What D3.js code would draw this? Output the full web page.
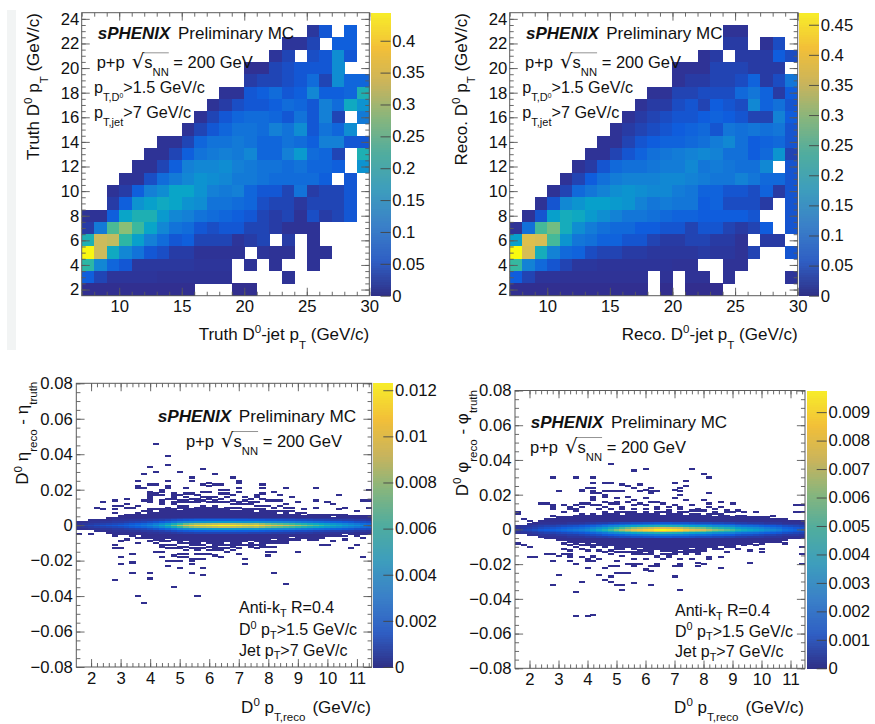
<!DOCTYPE html>
<html><head><meta charset="utf-8">
<script src="https://cdn.jsdelivr.net/npm/d3@7/dist/d3.min.js"></script>
<style>html,body{margin:0;padding:0;background:#fff}svg{display:block}text{font-family:"Liberation Sans",Arial,sans-serif;fill:#111}</style>
</head><body><svg id="c" width="875" height="724"></svg>
<script>
const _ = null;
// ROOT "bird" palette stops for the cells, and the paler look of the printed colour bars
const birdColors = ["#352a87","#0f5cdd","#1481d6","#06a4ca","#2eb7a4","#87bf77","#d1bb59","#fec832","#f9fb0e"];
const barColors = ["#2f2f86","#2f5fc4","#3a80c8","#3d9dbd","#4fac9f","#85b57e","#c9b45c","#f2bf38","#f7ec2a"];

const truthColorTicks = [0,.05,.1,.15,.2,.25,.3,.35,.4];
const recoColorTicks = [0,.05,.1,.15,.2,.25,.3,.35,.4,.45];
const etaColorTicks = [0,.002,.004,.006,.008,.01,.012];
const phiColorTicks = [0,.001,.002,.003,.004,.005,.006,.007,.008,.009];
const jetPtTicks = [10,15,20,25,30];
const d0PtTicks = [2,4,6,8,10,12,14,16,18,20,22,24];
const recoPtTicks = [2,3,4,5,6,7,8,9,10,11];
const residTicks = [-.08,-.06,-.04,-.02,0,.02,.04,.06,.08];

// rows from D0 pT = 24 down to 2, columns jet pT 7-8 ... 29-30
const truthRows = [
[_,_,_,_,_,_,_,_,_,_,_,_,_,_,_,_,_,_,_,_,_,_,_],
[_,_,_,_,_,_,_,_,_,_,_,_,_,_,_,_,_,_,.015,.05,_,.06,_],
[_,_,_,_,_,_,_,_,_,_,_,_,_,_,_,_,.012,.012,.03,_,.06,.06,_],
[_,_,_,_,_,_,_,_,_,_,_,_,_,_,_,.012,.03,_,.04,.05,.13,.05,_],
[_,_,_,_,_,_,_,_,_,_,_,_,_,.008,.008,.03,.04,.05,.05,.05,.13,_,_],
[_,_,_,_,_,_,_,_,_,_,_,_,_,.02,.03,.03,.04,.05,.08,.03,.13,.07,.07],
[_,_,_,_,_,_,_,_,_,_,_,.01,.01,.05,.06,.08,.05,.06,.12,.06,.06,.07,.2],
[_,_,_,_,_,_,_,_,_,_,.01,.02,.04,.05,.05,.06,.08,.07,.05,.11,.08,.18,.14],
[_,_,_,_,_,_,_,_,_,.01,.03,.05,.07,.08,.08,.07,.05,.09,.05,.11,.03,_,.1],
[_,_,_,_,_,_,_,_,.01,.03,.05,.07,.09,.09,.08,.11,.09,.13,.05,.09,.07,.13,_],
[_,_,_,_,_,_,.01,.01,.03,.07,.09,.09,.1,.09,.07,.07,.09,.08,.06,.11,.11,.05,.05],
[_,_,_,_,_,.01,.01,.03,.06,.09,.1,.11,.1,.12,.07,.07,.11,.15,.08,.07,.03,_,.2],
[_,_,_,_,.01,.01,.03,.06,.11,.12,.12,.13,.11,.1,.09,.09,.08,.09,.07,.07,.06,_,.14],
[_,_,_,.01,.01,.04,.08,.1,.12,.14,.13,.12,.1,.1,.09,.08,.08,.08,.08,.06,_,.05,_],
[_,_,.01,.02,.06,.11,.13,.17,.17,.14,.11,.1,.11,.07,.05,.05,.03,.09,.02,.03,.03,.05,_],
[_,_,.02,.06,.14,.16,.18,.17,.14,.13,.09,.09,.08,.07,.04,.03,.03,.015,.03,.03,.03,.05,_],
[.01,.01,.06,.17,.2,.2,.15,.12,.11,.09,.08,.07,.06,.05,.03,.02,.03,.01,.04,.02,.03,.05,_],
[.02,.1,.24,.28,.23,.17,.12,.09,.08,.05,.04,.05,.05,.03,.03,.02,.01,.01,.01,_,_,_,_],
[.2,.33,.32,.22,.16,.11,.08,.05,.06,.03,.03,.03,.012,.02,.03,_,.02,_,.01,_,_,_,_],
[.44,.33,.18,.12,.09,.05,.04,.02,.02,.01,.01,.01,.01,_,.012,.01,.01,_,.01,.01,_,_,_],
[.22,.12,.07,.05,.015,.015,.015,.015,.015,.012,.012,.012,_,.01,_,.01,_,_,.01,_,_,_,_],
[.06,.03,.012,.012,.012,.012,.01,.01,.01,.01,.01,.01,_,_,_,_,.01,_,_,_,_,_,_],
[.006,.006,.006,.006,.006,.006,.006,.006,.006,_,_,_,.005,.005,_,_,_,_,_,_,_,_,_]
];
const recoRows = [
[_,_,_,_,_,_,_,_,_,_,_,_,_,_,_,_,_,_,_,_,_,_,_],
[_,_,_,_,_,_,_,_,_,_,_,_,_,_,_,_,_,.01,.01,_,_,_,_],
[_,_,_,_,_,_,_,_,_,_,_,_,_,_,_,_,_,.02,.02,_,.01,.04,_],
[_,_,_,_,_,_,_,_,_,_,_,_,_,_,_,.01,.02,_,.02,.02,.02,.06,.04],
[_,_,_,_,_,_,_,_,_,_,_,_,_,.01,.01,.01,.03,.03,.03,.02,.02,.02,_],
[_,_,_,_,_,_,_,_,_,_,_,_,_,.01,.02,.02,.03,.03,.04,.07,.02,.04,.1],
[_,_,_,_,_,_,_,_,_,_,_,.01,.01,.03,.03,.04,.04,.04,.08,.1,.07,.02,.06],
[_,_,_,_,_,_,_,_,_,_,.01,.02,.02,.04,.05,.03,.06,.05,.04,.13,.07,.09,.05],
[_,_,_,_,_,_,_,_,_,.01,.02,.03,.04,.05,.05,.06,.07,.06,.05,.03,.03,.12,.06],
[_,_,_,_,_,_,_,_,.01,.02,.03,.04,.05,.06,.07,.08,.05,.1,.09,.1,.09,.1,.05],
[_,_,_,_,_,_,_,.01,.01,.03,.05,.06,.07,.07,.08,.09,.11,.13,.09,.06,.07,.08,.05],
[_,_,_,_,_,_,.01,.01,.03,.05,.07,.09,.1,.11,.12,.13,.12,.09,.09,.06,.08,.15,.03],
[_,_,_,_,_,.01,.02,.05,.08,.09,.09,.1,.11,.11,.13,.1,.11,.1,.09,.09,.13,_,.05],
[_,_,_,_,.01,.03,.06,.09,.11,.12,.12,.12,.13,.13,.12,.11,.1,.1,.12,.1,.08,.08,.05],
[_,_,_,.01,.03,.08,.1,.12,.14,.15,.14,.13,.13,.11,.1,.07,.07,.05,.05,.04,.07,.02,.05],
[_,_,.01,.05,.13,.15,.17,.17,.16,.15,.12,.1,.11,.1,.1,.06,.07,.04,.04,.04,.02,_,.05],
[_,.01,.05,.17,.2,.19,.16,.14,.12,.1,.1,.09,.08,.07,.07,.06,.06,.06,.06,.05,_,_,.05],
[.01,.09,.25,.28,.2,.14,.11,.09,.08,.08,.06,.06,.05,.05,.03,.05,.05,.03,.02,.03,.06,_,.05],
[.17,.37,.36,.25,.15,.1,.09,.07,.07,.05,.05,.03,.02,.02,.03,.03,.02,.02,.01,_,.02,.02,_],
[.47,.36,.2,.12,.08,.07,.04,.03,.03,.02,.02,.015,.015,.015,.015,.02,.015,.015,.01,.03,_,_,.05],
[.24,.12,.08,.05,.03,.015,.015,.012,.012,.012,.012,.012,.012,.01,.01,_,_,.01,.01,_,_,_,_],
[.06,.03,.012,.012,.01,.01,.01,.01,.01,.01,.01,_,.01,_,.01,.01,_,.01,_,_,_,_,.012],
[.006,.006,.006,.006,.006,.006,.006,.006,.006,.006,.006,_,.005,_,.005,.005,.005,_,_,_,_,_,_]
];

// residual panels: 50 pT bins, residual bins 0.001 wide; ridge values at offsets 0, +-1, +-2, +-3, +-4
const etaRidge = [.0005,.0007,.0008,.001,.0012,.0013,.0014,.0016,.0018,.0021,.0024,.0027,.0032,.0039,.0048,.0058,.0072,.0086,.0098,.0105,.0112,.0115,.0117,.012,.0123,.0122,.012,.0118,.0115,.0113,.0116,.0108,.0102,.0098,.0096,.0092,.0088,.0083,.0077,.0072,.0068,.0064,.0057,.0053,.0049,.0044,.004,.0036,.0032,.0028];
const etaNear1 = [.0003,.0004,.0005,.0006,.0007,.0008,.0009,.001,.0012,.0014,.0016,.0019,.0023,.0028,.0034,.0042,.0052,.0062,.0071,.0076,.0081,.0084,.0086,.0088,.009,.009,.0088,.0086,.0084,.0083,.0085,.0079,.0074,.0071,.0069,.0066,.0064,.006,.0056,.0052,.0049,.0046,.0042,.0039,.0036,.0032,.0029,.0026,.0023,.002];
const etaNear2 = [.0002,.0002,.0003,.0003,.0004,.0004,.0005,.0005,.0006,.0007,.0008,.0009,.0011,.0013,.0016,.002,.0025,.003,.0034,.0036,.0038,.004,.0041,.0042,.0042,.0042,.0041,.004,.0039,.0039,.004,.0037,.0035,.0034,.0033,.0031,.003,.0028,.0026,.0025,.0023,.0022,.002,.0018,.0017,.0015,.0014,.0012,.0011,.001];
const etaNear3 = [.0001,.0001,.0002,.0002,.0002,.0002,.0003,.0003,.0003,.0004,.0004,.0005,.0005,.0006,.0007,.0009,.0011,.0013,.0014,.0015,.0016,.0016,.0017,.0017,.0017,.0017,.0017,.0016,.0016,.0016,.0016,.0015,.0014,.0014,.0013,.0012,.0012,.0011,.0011,.001,.0009,.0009,.0008,.0007,.0007,.0006,.0006,.0005,.0005,.0004];
const etaNear4 = [.0001,.0001,.0001,.0001,.0001,.0001,.0002,.0002,.0002,.0002,.0002,.0002,.0003,.0003,.0004,.0004,.0005,.0006,.0007,.0007,.0008,.0008,.0008,.0008,.0008,.0008,.0008,.0008,.0008,.0007,.0007,.0007,.0007,.0006,.0006,.0006,.0006,.0005,.0005,.0005,.0004,.0004,.0004,.0003,.0003,.0003,.0003,.0002,.0002,.0002];
const etaBandUp = [2,2,3,3,3,4,4,5,6,6,7,8,9,9,10,10,10,11,11,11,11,11,11,11,10,10,10,10,9,9,9,9,8,8,8,8,8,7,7,6,6,6,6,6,6,6,5,5,5,5];
const etaBandDown = [2,2,2,3,3,4,5,5,5,6,7,7,8,8,9,9,9,10,10,11,11,11,12,12,11,11,10,10,9,9,9,9,9,9,9,9,8,8,8,8,8,7,6,6,6,5,5,5,5,5];
const etaHoles = [[19,11],[20,11],[19,10],[16,10],[14,10],[17,9],[13,8],[11,7],[22,11],[24,10],[27,9],[26,9],[30,8],[34,7],[36,7],[38,6],[43,5],[25,-10],[21,-10],[16,-9],[15,-8],[12,-8],[18,-9],[22,-11],[29,-9],[33,-8],[38,-8],[36,-7],[45,-5],[10,-6]];
const etaScatter = [[13,46],[15,39],[15,34],[12,33],[11,29],[13,30],[17,30],[21,32],[10,25],[10,22],[12,23],[13,23],[15,25],[19,27],[19,25],[23,29],[22,24],[21,23],[15,22],[14,20],[12,18],[12,16],[13,18],[13,17],[16,18],[16,16],[17,17],[4,13],[6,14],[8,15],[3,10],[4,9],[6,11],[6,9],[8,10],[9,10],[10,11],[11,14],[12,13],[14,14],[15,15],[18,16],[18,18],[19,18],[20,17],[21,19],[22,16],[22,22],[23,16],[23,23],[24,23],[24,18],[25,20],[26,27],[26,17],[27,25],[27,24],[27,19],[28,16],[29,15],[30,17],[30,16],[31,23],[31,21],[31,15],[32,14],[33,19],[33,14],[34,17],[34,14],[35,21],[36,16],[37,13],[38,9],[40,21],[40,14],[40,10],[42,13],[43,12],[44,17],[44,9],[45,10],[47,8],[49,20],[49,14],[49,10],[48,14],[0,-5],[2,-5],[5,-4],[6,-6],[6,-11],[6,-13],[7,-13],[7,-18],[9,-16],[7,-22],[9,-21],[9,-27],[12,-27],[12,-30],[6,-31],[16,-35],[10,-40],[20,-40],[11,-44],[15,-23],[17,-24],[19,-27],[21,-28],[21,-24],[17,-20],[14,-18],[16,-17],[19,-19],[20,-19],[19,-20],[15,-20],[16,-20],[18,-16],[17,-18],[18,-18],[13,-15],[22,-16],[23,-17],[24,-18],[25,-15],[26,-14],[26,-11],[27,-16],[28,-19],[28,-22],[21,-16],[29,-12],[30,-13],[31,-10],[32,-15],[32,-17],[33,-12],[33,-15],[33,-27],[34,-7],[34,-9],[35,-33],[37,-15],[40,-8],[41,-11],[42,-11],[43,-9],[45,-8],[45,-6],[46,-13],[47,-11],[47,-6],[48,-18],[48,-7],[49,-5],
[6,7],[6,9],[7,11],[8,12],[10,21],[11,21],[12,14],[12,15],[12,17],[12,19],[14,12],[14,13],[14,17],[14,19],[15,21],[16,12],[16,13],[16,15],[16,17],[17,13],[17,14],[18,13],[18,14],[18,21],[19,13],[19,15],[20,13],[20,14],[20,15],[21,14],[21,16],[22,13],[22,15],[22,19],[23,13],[23,14],[24,13],[24,15],[24,20],[25,13],[25,16],[25,18],[26,12],[26,14],[27,12],[27,13],[27,21],[28,12],[28,14],[29,12],[29,13],[30,11],[30,13],[31,11],[31,18],[32,11],[33,10],[34,11],[35,10],[35,12],[36,10],
[7,-9],[8,-8],[10,-10],[12,-9],[13,-10],[14,-11],[14,-12],[14,-15],[15,-11],[15,-13],[16,-11],[16,-13],[17,-12],[17,-13],[17,-16],[18,-12],[18,-14],[19,-13],[19,-22],[20,-13],[20,-14],[20,-16],[21,-13],[21,-19],[22,-14],[23,-14],[23,-13],[24,-13],[24,-14],[25,-13],[26,-12],[27,-11],[27,-13],[28,-11],[29,-10],[29,-11],[30,-11],[31,-11],[31,-12],[32,-10],[32,-12],[33,-10],[34,-10],[35,-10]];

const phiRidge = [.0004,.0006,.0007,.0009,.0011,.0012,.0013,.0015,.0017,.0019,.0021,.0023,.0027,.0032,.0039,.0045,.0052,.0059,.0066,.0072,.0078,.0082,.0086,.0088,.0094,.0097,.0094,.0092,.0089,.0083,.0078,.0075,.0074,.0068,.0062,.0059,.0055,.0052,.0045,.0041,.0038,.0035,.0032,.0028,.0026,.0023,.0018,.0016,.0014,.0012];
const phiNear1 = [.0003,.0004,.0005,.0006,.0008,.0009,.001,.0011,.0013,.0015,.0016,.0018,.0021,.0025,.003,.0035,.0041,.0047,.0052,.0057,.0062,.0065,.0068,.007,.0074,.0076,.0074,.0072,.007,.0065,.0061,.0059,.0058,.0053,.0049,.0046,.0043,.0041,.0035,.0032,.003,.0028,.0025,.0022,.002,.0018,.0014,.0013,.0011,.001];
const phiNear2 = [.0002,.0003,.0003,.0004,.0005,.0006,.0006,.0007,.0008,.0009,.001,.0011,.0013,.0015,.0018,.0021,.0025,.0028,.0031,.0034,.0037,.0039,.0041,.0042,.0044,.0045,.0044,.0043,.0042,.0039,.0037,.0035,.0035,.0032,.0029,.0028,.0026,.0025,.0021,.0019,.0018,.0017,.0015,.0013,.0012,.0011,.0009,.0008,.0007,.0006];
const phiNear3 = [.0001,.0002,.0002,.0002,.0003,.0003,.0003,.0004,.0004,.0005,.0005,.0006,.0007,.0008,.0009,.0011,.0012,.0014,.0015,.0017,.0018,.0019,.002,.0021,.0022,.0022,.0022,.0021,.0021,.002,.0018,.0017,.0017,.0016,.0014,.0014,.0013,.0012,.001,.0009,.0009,.0008,.0007,.0006,.0006,.0005,.0004,.0004,.0004,.0003];
const phiNear4 = [.0001,.0001,.0001,.0001,.0002,.0002,.0002,.0002,.0002,.0003,.0003,.0003,.0004,.0004,.0005,.0005,.0006,.0007,.0008,.0008,.0009,.0009,.001,.001,.0011,.0011,.0011,.001,.001,.001,.0009,.0008,.0008,.0008,.0007,.0007,.0006,.0006,.0005,.0005,.0004,.0004,.0004,.0003,.0003,.0003,.0002,.0002,.0002,.0002];
const phiBandUp = [2,2,3,4,5,6,6,7,7,8,8,9,9,9,9,10,10,10,10,10,10,10,10,10,10,10,10,10,10,10,9,9,9,9,9,9,8,8,8,8,8,7,7,7,6,6,6,5,5,5];
const phiBandDown = [2,2,3,3,4,5,5,6,6,7,8,9,9,9,10,10,10,11,11,11,11,12,12,12,12,12,13,13,13,13,12,12,12,11,11,11,10,10,9,9,8,8,7,7,7,6,6,5,5,5];
const phiHoles = [[9,8],[12,9],[14,9],[16,10],[18,9],[21,10],[23,10],[25,9],[27,10],[29,9],[32,9],[34,8],[37,8],[40,8],[11,-8],[14,-10],[16,-10],[19,-11],[21,-11],[24,-12],[26,-13],[28,-12],[30,-11],[33,-11],[35,-10],[38,-9],[41,-8],[13,-8]];
const phiScatter = [[16,38],[20,34],[22,35],[6,30],[10,30],[13,30],[7,22],[11,22],[12,24],[13,27],[13,24],[15,27],[16,27],[18,26],[19,25],[20,24],[21,26],[22,23],[23,21],[24,22],[13,22],[14,21],[15,22],[16,22],[17,22],[13,19],[15,19],[13,17],[18,22],[17,18],[19,19],[20,17],[22,18],[24,16],[15,16],[16,15],[17,16],[4,15],[5,15],[0,10],[0,9],[6,14],[6,13],[6,12],[8,14],[10,14],[11,15],[1,6],[2,5],[5,5],[6,8],[30,35],[32,32],[33,30],[27,27],[29,28],[28,24],[27,23],[28,20],[27,18],[23,24],[24,22],[23,22],[33,21],[32,17],[33,15],[35,16],[37,15],[35,13],[33,13],[36,11],[38,11],[39,10],[41,10],[44,8],[43,7],[48,14],[49,14],[48,10],[49,10],[2,-16],[3,-16],[0,-8],[1,-9],[2,-10],[6,-18],[6,-32],[11,-30],[10,-36],[10,-50],[12,-50],[13,-49],[7,-26],[9,-16],[9,-18],[10,-20],[12,-22],[13,-16],[13,-18],[15,-22],[16,-21],[14,-26],[15,-29],[16,-30],[17,-32],[18,-32],[18,-35],[20,-31],[23,-32],[16,-27],[17,-25],[18,-25],[19,-25],[20,-21],[21,-20],[22,-23],[24,-21],[20,-17],[22,-17],[5,-14],[6,-14],[8,-11],[8,-14],[9,-14],[7,-15],[12,-17],[49,-10],[49,-14],[49,-20],[46,-8],[44,-6],[45,-7],[42,-8],[42,-11],[42,-13],[41,-9],[40,-12],[40,-19],[38,-11],[36,-10],[36,-13],[35,-11],[35,-16],[34,-10],[33,-10],[33,-16],[33,-17],[35,-22],[31,-21],[32,-20],[31,-19],[28,-20],[27,-21],[27,-27],[28,-35],[24,-21],[23,-24],[23,-32],[31,-13],[29,-13],[26,-16],[24,-16],[25,-17],[30,-17],[28,-17],
[11,23],[13,21],[13,18],[15,20],[17,22],[21,22],[23,22],[28,22],[29,25],[9,13],[10,11],[12,15],[13,14],[15,13],[17,15],[19,16],[21,15],[23,16],[25,15],[27,14],[29,17],[30,14],[8,10],[9,12],[10,12],[11,13],[14,12],[14,14],[16,12],[18,12],[18,13],[20,12],[20,14],[22,12],[22,14],[24,12],[24,13],[26,11],[26,13],[28,12],[28,13],[30,11],[31,11],[31,12],[32,11],[34,10],[34,12],[36,10],[37,10],
[8,-8],[9,-9],[9,-12],[9,-15],[11,-16],[12,-18],[13,-10],[13,-15],[14,-17],[16,-14],[17,-18],[15,-22],[17,-21],[20,-14],[21,-14],[23,-13],[24,-15],[26,-15],[28,-9],[30,-13],[19,-20],[20,-20],[23,-21],[24,-20],[28,-21],[10,-10],[11,-11],[12,-12],[14,-12],[15,-13],[16,-12],[17,-13],[18,-13],[18,-15],[19,-13],[20,-13],[21,-13],[22,-14],[23,-14],[25,-14],[26,-14],[27,-14],[29,-14],[31,-14]];

const svg = d3.select("#c");
const frameColor = "#5a5a5a";
const FS = 16.5, TICK = 16.7, TITLE = 17;
const fontStack = '"Liberation Sans",Arial,sans-serif';

function paletteScale(max, colors){
  return d3.scaleLinear().domain(colors.map((c,i)=>i/(colors.length-1)*max)).range(colors).clamp(true);
}
function rich(g, x, y, parts, o={}){
  const size = o.size||FS, drop = o.drop===undefined?.5:o.drop;
  const t = g.append("text").attr("x",x).attr("y",y).attr("font-size",size);
  if(o.anchor) t.attr("text-anchor",o.anchor);
  if(o.rotate) t.attr("transform",`rotate(-90 ${x} ${y})`);
  let shift=0; const overs=[];
  parts.forEach(p=>{
    const s = typeof p==="string"?{t:p}:p;
    const target = s.rise!==undefined?s.rise*size:s.sub?size*drop:s.sup?-size*.4:0;
    const sp = t.append("tspan").text(s.t).attr("dy",target-shift);
    if(s.dx) sp.attr("dx",s.dx);
    if(s.sub||s.sup) sp.attr("font-size",size*(s.small||.68));
    if(s.bold) sp.attr("font-weight","bold").attr("font-style","italic");
    if(s.font) sp.style("font-family",s.font);
    if(s.scale) sp.attr("font-size",size*s.scale);
    shift=target;
    if(s.over) overs.push(sp);
  });
  if(overs.length){
    const a=overs[0].node(), b=overs[overs.length-1].node();
    const x0=a.getStartPositionOfChar(0).x, x1=b.getEndPositionOfChar(b.getNumberOfChars()-1).x;
    g.append("line").attr("x1",x0-1).attr("x2",x1).attr("y1",y-size*.92).attr("y2",y-size*.92).attr("stroke","#777").attr("stroke-width",.8);
  }
  return t;
}
const sqrtS = [{t:"√",font:"'DejaVu Sans'",scale:1.2,dx:7},{t:"s",over:true},{t:"NN",sub:true,over:true}];

function frame(g, box, x, y, xMaj, xMin, yMaj, yMin, xFmt, yFmt, padX, padY){
  const {l,r,t,b}=box, W=r-l, H=b-t;
  const majX=W*.028, minX=majX*.5, majY=H*.028, minY=majY*.5;
  const styled = s=>{s.selectAll("path").remove();s.selectAll("line").attr("stroke",frameColor).attr("stroke-width",.9);s.selectAll("text").attr("font-size",TICK).attr("fill","#111").style("font-family",fontStack);};
  const fmtNone=()=>"";
  const mk=(axis,scale,vals,size,fmt,tr,pad)=>{
    const a=axis(scale).tickValues(vals).tickSizeInner(-size).tickSizeOuter(0).tickPadding(pad).tickFormat(fmt||fmtNone);
    g.append("g").attr("transform",tr).call(a).call(styled);
  };
  mk(d3.axisBottom,x,xMin,minY,null,`translate(0,${b})`,padX);
  mk(d3.axisBottom,x,xMaj,majY,xFmt,`translate(0,${b})`,padX);
  mk(d3.axisTop,x,xMin,minY,null,`translate(0,${t})`,0);
  mk(d3.axisTop,x,xMaj,majY,null,`translate(0,${t})`,0);
  mk(d3.axisLeft,y,yMin,minX,null,`translate(${l},0)`,padY);
  mk(d3.axisLeft,y,yMaj,majX,yFmt,`translate(${l},0)`,padY);
  mk(d3.axisRight,y,yMin,minX,null,`translate(${r},0)`,0);
  mk(d3.axisRight,y,yMaj,majX,null,`translate(${r},0)`,0);
  g.append("rect").attr("x",l).attr("y",t).attr("width",W).attr("height",H).attr("fill","none").attr("stroke",frameColor).attr("stroke-width",1);
}
function colorBar(g, box, max, ticks, fmt){
  const {cl,cr,t,b}=box;
  const color=paletteScale(max,barColors);
  const cy=d3.scaleLinear().domain([0,max]).range([b,t]);
  const steps=d3.range(0,120);
  g.append("g").attr("shape-rendering","crispEdges").selectAll("rect").data(steps).join("rect")
    .attr("x",cl).attr("width",cr-cl)
    .attr("y",d=>cy((d+1)/120*max)).attr("height",d=>cy(d/120*max)-cy((d+1)/120*max)+.6)
    .attr("fill",d=>color((d+.5)/120*max));
  const a=d3.axisRight(cy).tickValues(ticks).tickSizeInner(-10).tickSizeOuter(0).tickPadding(1.7).tickFormat(fmt);
  g.append("g").attr("transform",`translate(${cr},0)`).call(a).call(s=>{
    s.select("path").remove();
    s.selectAll("line").attr("stroke","#444").attr("stroke-width",.9);
    s.selectAll("text").attr("font-size",TICK).attr("fill","#111").style("font-family",fontStack);
  });
}
function jetPanel(box, rows, colorTicks, cmax, cfmt){
  const g=svg.append("g");
  const x=d3.scaleLinear().domain([7,30]).range([box.l,box.r]);
  const y=d3.scaleLinear().domain([1.5,24.5]).range([box.b,box.t]);
  const color=paletteScale(cmax,birdColors);
  const cells=[];
  rows.forEach((row,ri)=>row.forEach((v,ci)=>{ if(v!==null) cells.push({x:7+ci,yc:24-ri,v}); }));
  g.append("g").attr("shape-rendering","crispEdges").style("filter","blur(0.45px)").selectAll("rect").data(cells).join("rect")
    .attr("x",d=>x(d.x)).attr("width",d=>x(d.x+1)-x(d.x)+.3)
    .attr("y",d=>y(d.yc+.5)).attr("height",d=>y(d.yc-.5)-y(d.yc+.5)+.3)
    .attr("fill",d=>color(d.v));
  frame(g,box,x,y,jetPtTicks,d3.range(7,31),d0PtTicks,d3.range(2,24.5,.5),d3.format("d"),d3.format("d"),4.5,2.5);
  colorBar(g,box,cmax,colorTicks,cfmt);
  return g;
}
function residPanel(box, s, colorTicks, cmax, cfmt){
  const g=svg.append("g");
  const x=d3.scaleLinear().domain([1.5,11.5]).range([box.l,box.r]);
  const y=d3.scaleLinear().domain([-.08,.08]).range([box.b,box.t]);
  const color=paletteScale(cmax,birdColors);
  const floor=cmax*.012;
  const holes=new Set(s.holes.map(h=>h.join("/")));
  const cells=[];
  s.scatter.forEach(([c,j])=>cells.push({c,j,v:floor}));
  s.ridge.forEach((v,c)=>{
    for(let j=-s.down[c];j<=s.up[c];j++){
      if(holes.has(c+"/"+j)) continue;
      const k=Math.abs(j);
      const val=k===0?v:k===1?s.n1[c]:k===2?s.n2[c]:k===3?s.n3[c]:k===4?s.n4[c]:floor;
      cells.push({c,j,v:val});
    }
  });
  g.append("g").attr("shape-rendering","crispEdges").style("filter","blur(0.5px)").selectAll("rect").data(cells).join("rect")
    .attr("x",d=>x(1.5+.2*d.c)).attr("width",d=>x(1.7+.2*d.c)-x(1.5+.2*d.c)+.2)
    .attr("y",d=>y((d.j+.5)/1000)).attr("height",d=>y((d.j-.5)/1000)-y((d.j+.5)/1000)+.4)
    .attr("fill",d=>color(d.v));
  const resFmt=d=>d===0?"0":d3.format(".2f")(d).replace("-","−");
  frame(g,box,x,y,recoPtTicks,d3.range(2,11.5,.2).filter(v=>v<=11.5),residTicks,d3.range(-.08,.0801,.005),d3.format("d"),resFmt,5,3.5);
  colorBar(g,box,cmax,colorTicks,cfmt);
  return g;
}

svg.append("rect").attr("x",7).attr("y",10).attr("width",9).attr("height",340).attr("fill","#f2f4f4");

const fmt2=d=>d===0?"0":String(d);
const B1={l:81.7,r:369.3,t:12.7,b:295.7,cl:371,cr:390.5};
const B2={l:509.7,r:797.7,t:12.7,b:295.7,cl:799,cr:819};
const B3={l:76.3,r:371.7,t:383.3,b:667,cl:373.3,cr:393.3};
const B4={l:515,r:805,t:390.5,b:668.3,cl:806.7,cr:826.7};

const g1=jetPanel(B1,truthRows,truthColorTicks,.444,fmt2);
const g2=jetPanel(B2,recoRows,recoColorTicks,.47,fmt2);
const g3=residPanel(B3,{ridge:etaRidge,n1:etaNear1,n2:etaNear2,n3:etaNear3,n4:etaNear4,up:etaBandUp,down:etaBandDown,scatter:etaScatter,holes:etaHoles},etaColorTicks,.0123,fmt2);
const g4=residPanel(B4,{ridge:phiRidge,n1:phiNear1,n2:phiNear2,n3:phiNear3,n4:phiNear4,up:phiBandUp,down:phiBandDown,scatter:phiScatter,holes:phiHoles},phiColorTicks,.00976,fmt2);

const sph=[{t:"sPHENIX",bold:true},{t:"Preliminary MC",dx:7.5}];
const pp=["p+p",...sqrtS," = 200 GeV"];
const ptD=["p",{t:"T,D",sub:true},{t:"0",sup:true,small:.42,rise:.3},">1.5 GeV/c"];
const ptJ=["p",{t:"T,jet",sub:true},">7 GeV/c"];
const P=16.2, N=16, lineDrop=.22;

rich(g1,97.7,39,sph,{size:17}); rich(g1,96.7,68,pp); rich(g1,94,93,ptD,{size:P}); rich(g1,94,118,ptJ,{size:P});
rich(g1,369.3,340,["Truth D",{t:"0",sup:true},"-jet p",{t:"T",sub:true}," (GeV/c)"],{anchor:"end",size:TITLE});
rich(g1,39,13,["Truth D",{t:"0",sup:true}," p",{t:"T",sub:true}," (GeV/c)"],{anchor:"end",rotate:true,size:TITLE});

rich(g2,526,39,sph,{size:17}); rich(g2,525,68,pp); rich(g2,522.3,93,ptD,{size:P}); rich(g2,522.3,118,ptJ,{size:P});
rich(g2,797.7,340,["Reco. D",{t:"0",sup:true},"-jet p",{t:"T",sub:true}," (GeV/c)"],{anchor:"end",size:TITLE});
rich(g2,466.7,13,["Reco. D",{t:"0",sup:true}," p",{t:"T",sub:true}," (GeV/c)"],{anchor:"end",rotate:true,size:TITLE});

const anti=["Anti-k",{t:"T",sub:true}," R=0.4"];
const dpt=["D",{t:"0",sup:true}," p",{t:"T",sub:true},">1.5 GeV/c"];
const jpt=["Jet p",{t:"T",sub:true},">7 GeV/c"];
const xReco=["D",{t:"0",sup:true}," p",{t:"T,reco",sub:true},{t:"(GeV/c)",dx:7}];

rich(g3,157.7,421.7,sph,{size:17.2}); rich(g3,186,446.7,pp);
rich(g3,239,613.3,anti,{size:N,drop:lineDrop}); rich(g3,239,635,dpt,{size:N,drop:lineDrop}); rich(g3,239,655.5,jpt,{size:N,drop:lineDrop});
rich(g3,371,712.7,xReco,{anchor:"end",size:TITLE});
rich(g3,28.5,381.7,["D",{t:"0",sup:true}," η",{t:"reco",sub:true}," - η",{t:"truth",sub:true}],{anchor:"end",rotate:true,size:TITLE});

rich(g4,530.7,428.3,sph,{size:17}); rich(g4,530,452.7,pp);
rich(g4,675,616,anti,{size:N,drop:lineDrop}); rich(g4,675,636.8,dpt,{size:N,drop:lineDrop}); rich(g4,675,657,jpt,{size:N,drop:lineDrop});
rich(g4,804,712.7,xReco,{anchor:"end",size:TITLE});
rich(g4,468.3,390,["D",{t:"0",sup:true}," φ",{t:"reco",sub:true}," - φ",{t:"truth",sub:true}],{anchor:"end",rotate:true,size:TITLE});
</script></body></html>
